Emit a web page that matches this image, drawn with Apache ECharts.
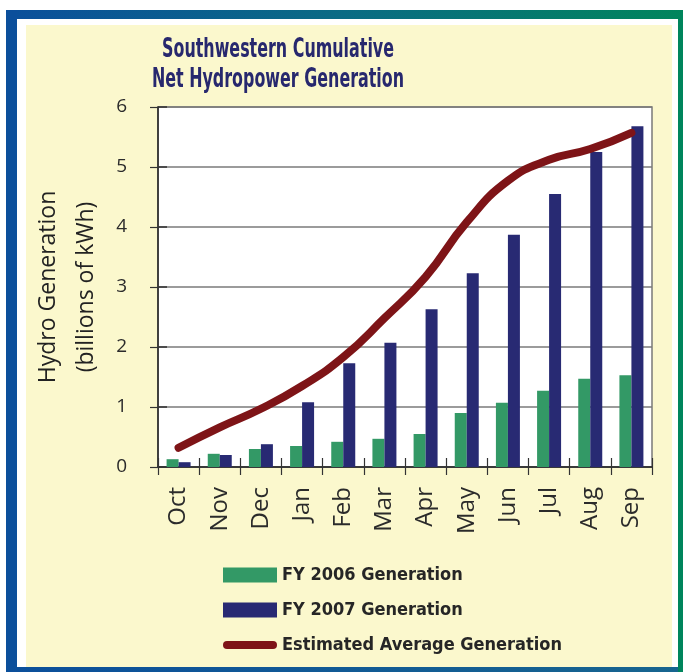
<!DOCTYPE html>
<html>
<head>
<meta charset="utf-8">
<script src="https://cdn.jsdelivr.net/npm/echarts@6/dist/echarts.min.js"></script>
<style>
html,body{margin:0;padding:0;background:#fff;width:683px;height:672px;overflow:hidden;}
#frame{position:absolute;left:6px;top:10px;width:677px;height:662px;background:linear-gradient(to right,#0b4f9b 0%,#0a6b84 50%,#00855c 100%);}
#leftb{position:absolute;left:6px;top:10px;width:11px;height:662px;background:#0b4f9b;}
#botb{position:absolute;left:6px;top:667px;width:672px;height:5px;background:linear-gradient(to right,#0b4f9b,#17658f);}
#white{position:absolute;left:17px;top:19px;width:661px;height:648px;background:#fff;}
#cream{position:absolute;left:26px;top:25px;width:646px;height:642px;background:#fbf8cd;}
#chart{position:absolute;left:0;top:0;width:683px;height:672px;}
</style>
</head>
<body>
<div id="frame"></div>
<div id="leftb"></div>
<div id="botb"></div>
<div id="white"></div>
<div id="cream"></div>
<div id="chart"></div>
<script>
const months = ['Oct','Nov','Dec','Jan','Feb','Mar','Apr','May','Jun','Jul','Aug','Sep'];
const fy2006 = [0.13,0.22,0.30,0.35,0.42,0.47,0.55,0.90,1.07,1.27,1.47,1.53];
const fy2007 = [0.08,0.20,0.38,1.08,1.73,2.07,2.63,3.23,3.87,4.55,5.25,5.68];
const estAvg = [0.32,0.66,0.97,1.35,1.83,2.48,3.17,4.08,4.77,5.12,5.30,5.57];
const seriesNames = ['FY 2006 Generation','FY 2007 Generation','Estimated Average Generation'];
const titleText = 'Southwestern Cumulative\nNet Hydropower Generation';
const yName = 'Hydro Generation\n(billions of kWh)';

const GREEN = '#339966', NAVY = '#282a73', MAROON = '#7e1417';
const gridPos = {left:158, right:31, top:107, bottom:205};

const chart = echarts.init(document.getElementById('chart'), null, {renderer:'canvas'});
chart.setOption({
  backgroundColor:'transparent',
  animation:false,
  graphic:[{
    type:'text', x:278, y:35, z:10, scaleX:0.68,
    style:{text:titleText, textAlign:'center', fill:'#27286e',
      font:'bold 26px "DejaVu Sans Condensed", "DejaVu Sans", sans-serif', lineHeight:30}
  }],
  legend:{
    orient:'vertical', left:223, top:566, padding:0, itemWidth:54, itemHeight:15, itemGap:17,
    itemStyle:{borderWidth:0},
    textStyle:{fontFamily:'"DejaVu Sans Condensed", "DejaVu Sans", sans-serif', fontWeight:'bold', fontSize:18, color:'#262626'},
    data:[
      {name:seriesNames[0], icon:'rect'},
      {name:seriesNames[1], icon:'rect'},
      {name:seriesNames[2], icon:'path://M4,0 L50,0 A4,4 0 0 1 50,8 L4,8 A4,4 0 0 1 4,0 Z'}
    ]
  },
  grid:[
    Object.assign({show:true, backgroundColor:'#fff', borderColor:'#7a7a7a', borderWidth:1.5}, gridPos),
    Object.assign({show:false}, gridPos)
  ],
  xAxis:[{
    type:'category', data:months, gridIndex:0,
    axisLine:{lineStyle:{color:'#222', width:1.5}},
    axisTick:{show:true, length:8, lineStyle:{color:'#333', width:1.2}},
    axisLabel:{rotate:90, margin:20, fontFamily:'"Open Sans", sans-serif', fontSize:24, color:'#2b2b2b'}
  },{
    type:'category', data:months, gridIndex:1,
    axisLine:{show:false}, axisLabel:{show:false},
    axisTick:{show:true, inside:true, length:9, lineStyle:{color:'#333', width:1.2}}
  }],
  yAxis:[{
    type:'value', min:0, max:6, interval:1, gridIndex:0,
    name:yName, nameLocation:'middle', nameGap:50,
    nameTextStyle:{fontFamily:'"Open Sans", sans-serif', fontSize:23, color:'#222', lineHeight:38},
    axisLine:{show:true, lineStyle:{color:'#222', width:1.5}},
    axisTick:{show:true, length:8, lineStyle:{color:'#333', width:1.2}},
    axisLabel:{margin:31, fontFamily:'"Open Sans", sans-serif', fontSize:19, color:'#2b2b2b'},
    splitLine:{lineStyle:{color:'#7a7a7a', width:1.5}}
  },{
    type:'value', min:0, max:6, interval:1, gridIndex:1,
    axisLine:{show:false}, axisLabel:{show:false}, splitLine:{show:false},
    axisTick:{show:true, inside:true, length:9, lineStyle:{color:'#333', width:1.5}}
  }],
  series:[
    {name:seriesNames[0], type:'bar', data:fy2006, barWidth:12, barGap:'0%', itemStyle:{color:GREEN}},
    {name:seriesNames[1], type:'bar', data:fy2007, barWidth:12, barGap:'0%', itemStyle:{color:NAVY}},
    {name:seriesNames[2], type:'line', data:estAvg, smooth:0.5, symbol:'none', z:5,
      itemStyle:{color:MAROON}, lineStyle:{color:MAROON, width:8, cap:'round'}}
  ]
});
</script>
</body>
</html>
